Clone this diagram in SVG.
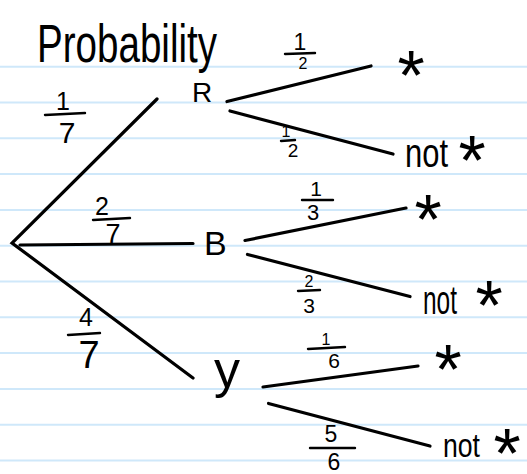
<svg xmlns="http://www.w3.org/2000/svg" width="527" height="474" viewBox="0 0 527 474">
<style>
.rule{stroke:#cfe8fa;stroke-width:2}
.edge{stroke:#000;stroke-width:3.2;stroke-linecap:round;fill:none}
.bar{stroke:#000;stroke-width:2.4;stroke-linecap:round}
text{font-family:"Liberation Sans",Arial,sans-serif;fill:#000}
.n{text-anchor:middle}
.st{text-anchor:middle;font-size:70px}
</style>
<rect width="527" height="474" fill="#fff"/>
<g id="paper">
<line class="rule" x1="0" y1="66.7" x2="527" y2="66.7"/>
<line class="rule" x1="0" y1="102.5" x2="527" y2="102.5"/>
<line class="rule" x1="0" y1="138.3" x2="527" y2="138.3"/>
<line class="rule" x1="0" y1="174.1" x2="527" y2="174.1"/>
<line class="rule" x1="0" y1="209.9" x2="527" y2="209.9"/>
<line class="rule" x1="0" y1="245.7" x2="527" y2="245.7"/>
<line class="rule" x1="0" y1="281.5" x2="527" y2="281.5"/>
<line class="rule" x1="0" y1="317.3" x2="527" y2="317.3"/>
<line class="rule" x1="0" y1="353.1" x2="527" y2="353.1"/>
<line class="rule" x1="0" y1="388.9" x2="527" y2="388.9"/>
<line class="rule" x1="0" y1="424.7" x2="527" y2="424.7"/>
<line class="rule" x1="0" y1="460.5" x2="527" y2="460.5"/>
</g>
<g id="title"><text x="37" y="62" font-size="54" textLength="180" lengthAdjust="spacingAndGlyphs">Probability</text></g>
<g id="connectors">
<polyline class="edge" points="157,99 12,243 193,378"/>
<line class="edge" x1="20" y1="245" x2="193" y2="243.5"/>
<line class="edge" x1="227" y1="101.5" x2="371" y2="66"/>
<line class="edge" x1="230" y1="111" x2="393" y2="154"/>
<line class="edge" x1="245" y1="240.5" x2="406" y2="208"/>
<line class="edge" x1="247.5" y1="254.5" x2="410" y2="296.5"/>
<line class="edge" x1="263" y1="387" x2="418" y2="366"/>
<line class="edge" x1="268.5" y1="403.5" x2="430" y2="446"/>
</g>
<g id="edge-labels">
<g id="p-R"><text class="n" x="63" y="110" font-size="25">1</text><line class="bar" x1="45" y1="115" x2="85" y2="113"/><text class="n" x="67" y="143" font-size="30">7</text></g>
<g id="p-B"><text class="n" x="102" y="215" font-size="25">2</text><line class="bar" x1="93" y1="220" x2="130" y2="218"/><text class="n" x="113" y="243" font-size="27">7</text></g>
<g id="p-Y"><text class="n" x="86" y="326" font-size="25">4</text><line class="bar" x1="68" y1="335" x2="100" y2="333"/><text class="n" x="89" y="368" font-size="38">7</text></g>
<g id="p-R-star"><text class="n" x="300" y="50" font-size="23">1</text><line class="bar" x1="285" y1="54" x2="315" y2="53"/><text class="n" x="303" y="69" font-size="16">2</text></g>
<g id="p-R-not"><text class="n" x="286" y="137" font-size="16">1</text><line class="bar" x1="281" y1="141" x2="295" y2="140"/><text class="n" x="293" y="157" font-size="19">2</text></g>
<g id="p-B-star"><text class="n" x="316" y="196" font-size="21">1</text><line class="bar" x1="302" y1="200" x2="333" y2="200"/><text class="n" x="313" y="220" font-size="22">3</text></g>
<g id="p-B-not"><text class="n" x="309" y="287" font-size="16">2</text><line class="bar" x1="298" y1="291" x2="320" y2="290"/><text class="n" x="309" y="313" font-size="21">3</text></g>
<g id="p-Y-star"><text class="n" x="326" y="345" font-size="16">1</text><line class="bar" x1="308" y1="349" x2="345" y2="347"/><text class="n" x="334" y="368" font-size="21">6</text></g>
<g id="p-Y-not"><text class="n" x="331" y="442" font-size="23">5</text><line class="bar" x1="310" y1="448" x2="355" y2="448"/><text class="n" x="334" y="470" font-size="23">6</text></g>
</g>
<g id="node-R"><text x="192" y="102" font-size="28">R</text></g>
<g id="node-B"><text x="204" y="255" font-size="34">B</text></g>
<g id="node-y"><text x="214" y="387" font-size="52">y</text></g>
<g id="node-R-star"><text class="st" x="411" y="100">*</text></g>
<g id="node-R-not"><text x="405" y="167" font-size="40" textLength="43" lengthAdjust="spacingAndGlyphs">not</text><text class="st" x="472" y="185">*</text></g>
<g id="node-B-star"><text class="st" x="428" y="244">*</text></g>
<g id="node-B-not"><text x="423" y="314" font-size="40" textLength="34" lengthAdjust="spacingAndGlyphs">not</text><text class="st" x="489" y="330">*</text></g>
<g id="node-Y-star"><text class="st" x="448" y="394">*</text></g>
<g id="node-Y-not"><text x="443" y="457" font-size="34" textLength="37" lengthAdjust="spacingAndGlyphs">not</text><text class="st" x="507" y="478">*</text></g>
</svg>
